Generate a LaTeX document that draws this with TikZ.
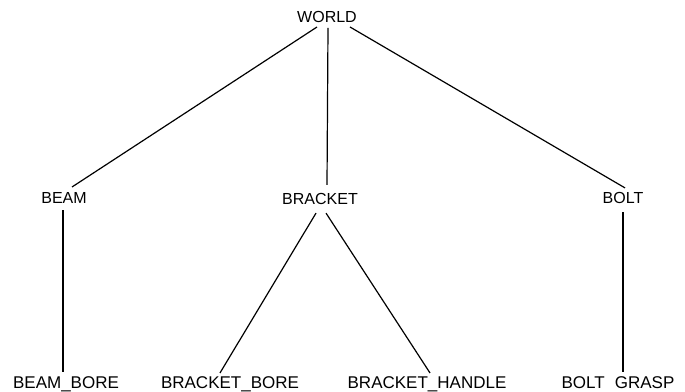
\documentclass[tikz,border=0pt]{standalone}
\usepackage{fontspec}
\setmainfont{Liberation Sans}
\begin{document}
\begin{tikzpicture}[x=1pt,y=-1pt,
  lbl/.style={inner sep=0pt,text depth=0pt,anchor=center,font=\fontsize{16}{16}\selectfont},
  leaf/.style={lbl,font=\fontsize{17}{17}\selectfont},
  edge/.style={line width=1.2pt}]
\useasboundingbox (0,0) rectangle (685,391);
\node[lbl] (world) at (327,16.5) {WORLD};
\node[lbl] (beam) at (64,198) {BEAM};
\node[lbl] (bracket) at (320,199) {BRACKET};
\node[lbl] (bolt) at (623,198) {BOLT};
\node[leaf] (beambore) at (66,383) {BEAM\_BORE};
\node[leaf] (bracketbore) at (230,383) {BRACKET\_BORE};
\node[leaf] (brackethandle) at (427,383) {BRACKET\_HANDLE};
\node[leaf] (boltgrasp) at (618,383) {BOLT\hspace{0.6em}GRASP};
\draw[edge] ([shift={(-10,4.7)}]world.south) -- ([shift={(8,-5.3)}]beam.north);
\draw[edge] ([shift={(1,5.7)}]world.south) -- ([shift={(7,-8.3)}]bracket.north);
\draw[edge] ([shift={(23,4.7)}]world.south) -- ([shift={(2,-4.3)}]bolt.north);
\draw[edge] ([shift={(-1,6.3)}]beam.south) -- ([shift={(-3,-4.9)}]beambore.north);
\draw[edge] ([shift={(-4,8.3)}]bracket.south) -- ([shift={(-10,-3.9)}]bracketbore.north);
\draw[edge] ([shift={(6,8.3)}]bracket.south) -- ([shift={(3,-3.9)}]brackethandle.north);
\draw[edge] ([shift={(0,8.3)}]bolt.south) -- ([shift={(5,-4.9)}]boltgrasp.north);
\end{tikzpicture}
\end{document}
